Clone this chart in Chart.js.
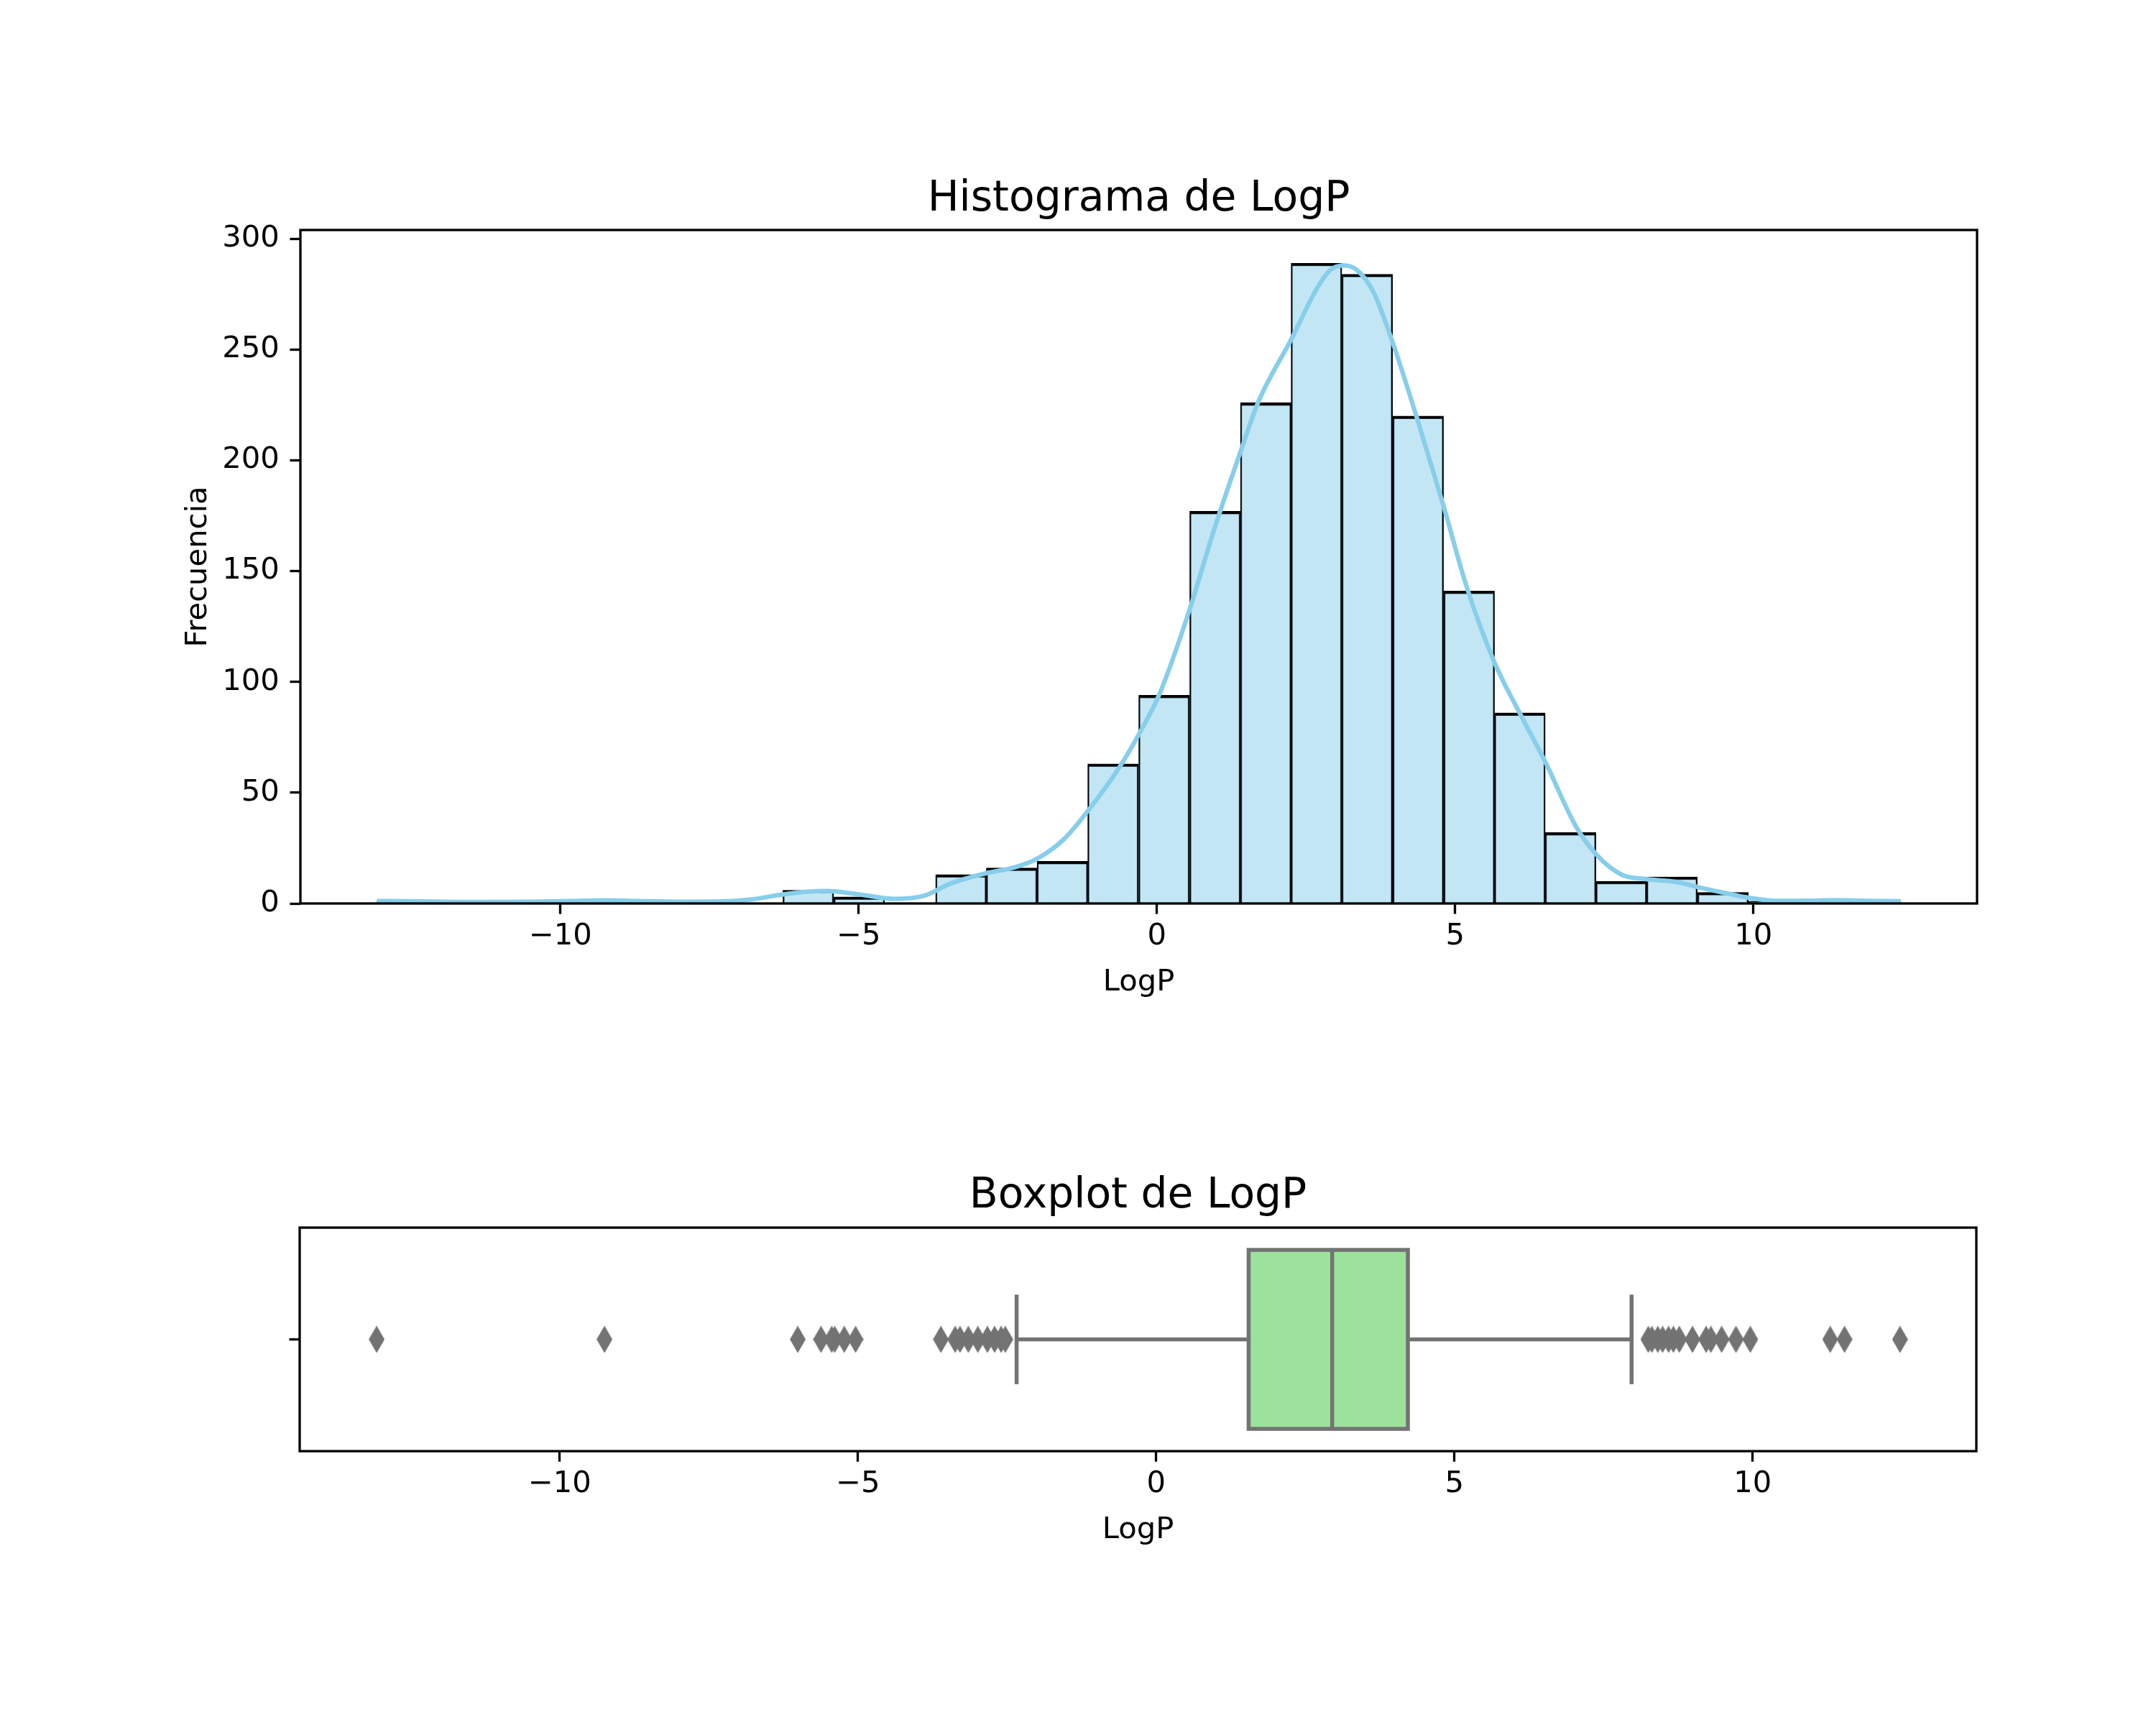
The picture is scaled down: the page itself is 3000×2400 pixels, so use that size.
<!DOCTYPE html>
<html>
<head>
<meta charset="utf-8">
<script src="https://cdn.jsdelivr.net/npm/chart.js@4.4.1/dist/chart.umd.min.js"></script>
<style>
  html, body { margin: 0; padding: 0; background: #fff; }
  #wrap { position: relative; width: 3000px; height: 2400px; background: #fff; }
  canvas { position: absolute; left: 0; }
  #hist { top: 0; width: 3000px; height: 1400px; }
  #box { top: 1400px; width: 3000px; height: 762px; }
</style>
</head>
<body>
<div id="wrap">
  <canvas id="hist" width="3000" height="1400"></canvas>
  <canvas id="box" width="3000" height="762"></canvas>
</div>
<script>
// Histogram: 30 bins (edges) and their counts
const BIN_EDGES = [-13.08, -12.23, -11.38, -10.52, -9.67, -8.82, -7.97, -7.12, -6.27, -5.42,
  -4.56, -3.71, -2.86, -2.01, -1.16, -0.31, 0.55, 1.40, 2.25, 3.10,
  3.95, 4.81, 5.66, 6.51, 7.36, 8.21, 9.06, 9.92, 10.77, 11.62, 12.47];
const COUNTS = [1, 0, 0, 0, 1, 0, 0, 0, 6, 3, 0, 13, 16, 19, 63, 94, 177, 226, 289, 284,
  220, 141, 86, 32, 10, 12, 5, 1, 2, 1];

// KDE curve (scaled to counts)
const KDE_X = [-13.08, -12.5, -11.5, -10.5, -9.8, -9.26, -8.7, -8.0, -7.3, -6.8, -6.29, -5.9, -5.53,
  -4.97, -4.42, -3.9, -3.46, -2.87, -2.4, -2.02, -1.56, -1.18, -0.64, -0.31, 0.05, 0.54, 0.95,
  1.39, 1.71, 2.26, 2.67, 2.91, 3.13, 3.35, 3.63, 3.93, 4.35, 4.81, 5.18, 5.64, 6.10, 6.51,
  7.02, 7.37, 7.79, 8.21, 8.71, 9.07, 9.48, 9.94, 10.40, 10.86, 11.40, 11.93, 12.47];
const KDE_Y = [1.1, 1.0, 0.7, 0.8, 1.1, 1.4, 1.1, 0.8, 0.9, 1.8, 4.0, 5.2, 5.6,
  4.0, 2.1, 3.5, 9.0, 13.6, 16.2, 20, 29, 41, 61, 76, 95, 132, 168,
  203, 227, 255, 277, 286, 288, 286, 276, 255, 220, 179, 144, 110, 85, 64,
  35, 22, 13, 11, 9.7, 7.4, 5, 2.5, 1.2, 1.2, 1.5, 1.2, 1.0];

// Boxplot summary
const WHISKER_LOW = -2.34;
const Q1 = 1.55;
const MEDIAN = 2.95;
const Q3 = 4.22;
const WHISKER_HIGH = 7.97;
const OUTLIERS = [-13.07, -9.25, -6.01, -5.62, -5.44, -5.39, -5.23, -5.04,
  -3.61, -3.37, -3.29, -3.15, -2.99, -2.83, -2.71, -2.60, -2.53,
  8.25, 8.31, 8.41, 8.49, 8.59, 8.67, 8.77, 8.99, 9.22, 9.30, 9.48, 9.72, 9.96,
  11.30, 11.54, 12.47];

// axes
const X_LIMITS = [-14.36, 13.75];
const X_TICKS = [-10, -5, 0, 5, 10];
const Y_MAX = 304;
const Y_TICKS = [0, 50, 100, 150, 200, 250, 300];
const BOX_Y_TICKS = [0];

// styles
const FONT = 'DejaVu Sans';
const TICK_SIZE = 41.67;
const TITLE_SIZE = 58.33;
const GRAY = '#737373';
const BOX_FILL = '#9ce29c';
const BOX_HALF = 0.4;
const CAP_HALF = 0.2;
const LW = 3.3;

const fmt = v => v < 0 ? '\u2212' + Math.abs(v) : String(v);

const framePlugin = {
  id: 'frame',
  afterDatasetsDraw(chart) {
    const { ctx, chartArea: a } = chart;
    ctx.save();
    ctx.strokeStyle = '#000';
    ctx.lineWidth = LW;
    ctx.strokeRect(a.left, a.top, a.right - a.left, a.bottom - a.top);
    ctx.restore();
  }
};

function tickGrid() {
  return { display: true, drawOnChartArea: false, drawTicks: true, tickLength: 14.6,
    tickWidth: LW, tickColor: '#000', offset: false };
}

function xAxis() {
  return {
    type: 'linear', min: X_LIMITS[0], max: X_LIMITS[1], offset: false,
    grid: tickGrid(),
    border: { display: false },
    afterBuildTicks: s => { s.ticks = X_TICKS.map(v => ({ value: v })); },
    ticks: { autoSkip: false, maxRotation: 0, padding: 7, color: '#000',
      font: { family: FONT, size: TICK_SIZE }, callback: v => fmt(v) },
    title: { display: true, text: 'LogP', color: '#000',
      font: { family: FONT, size: TICK_SIZE }, padding: { top: 0, bottom: 8 } },
    afterFit: s => { s.height = 143; }
  };
}

function title(text, top, bottom) {
  return { display: true, text, fullSize: false, color: '#000',
    font: { family: FONT, size: TITLE_SIZE, weight: 'normal' },
    padding: { top, bottom } };
}

// ---- histogram + kde ----
const histBars = COUNTS.map((c, i) => ({ x: (BIN_EDGES[i] + BIN_EDGES[i + 1]) / 2, y: c }));
const kdePts = KDE_X.map((x, i) => ({ x, y: KDE_Y[i] }));

new Chart(document.getElementById('hist'), {
  type: 'bar',
  data: {
    datasets: [
      { type: 'line', data: kdePts, borderColor: '#87CEEB', borderWidth: 6.25, pointRadius: 0,
        cubicInterpolationMode: 'monotone', fill: false, order: 1 },
      { type: 'bar', data: histBars, backgroundColor: 'rgba(135,206,235,0.5)', borderColor: '#000',
        borderWidth: { top: 3.8, left: 1.9, right: 1.9, bottom: 0 }, borderSkipped: 'start',
        barPercentage: 1, categoryPercentage: 1, order: 2 }
    ]
  },
  options: {
    responsive: false, animation: false, devicePixelRatio: 1,
    layout: { padding: { left: 0, right: 249, top: 0, bottom: 0 } },
    plugins: {
      legend: { display: false }, tooltip: { enabled: false },
      title: title('Histograma de LogP', 243, 7)
    },
    scales: {
      x: xAxis(),
      y: {
        type: 'linear', min: 0, max: Y_MAX,
        grid: tickGrid(),
        border: { display: false },
        afterBuildTicks: s => { s.ticks = Y_TICKS.map(v => ({ value: v })); },
        ticks: { autoSkip: false, padding: 14.6, color: '#000', font: { family: FONT, size: TICK_SIZE } },
        title: { display: true, text: 'Frecuencia', color: '#000',
          font: { family: FONT, size: TICK_SIZE }, padding: { top: 251.6, bottom: 0 } },
        afterFit: s => { s.width = 418; }
      }
    }
  },
  plugins: [framePlugin]
});

// ---- boxplot ----
const diamond = document.createElement('canvas');
diamond.width = 22; diamond.height = 38;
(function () {
  const c = diamond.getContext('2d');
  c.fillStyle = GRAY;
  c.beginPath();
  c.moveTo(11, 0); c.lineTo(22, 19); c.lineTo(11, 38); c.lineTo(0, 19); c.closePath();
  c.fill();
})();

// lower index is drawn on top
const seg = (a, b) => ({ data: [a, b], borderColor: GRAY, borderWidth: 5.5, pointRadius: 0,
  fill: false, borderCapStyle: 'butt' });

new Chart(document.getElementById('box'), {
  type: 'line',
  data: {
    datasets: [
      seg({ x: MEDIAN, y: -BOX_HALF }, { x: MEDIAN, y: BOX_HALF }),
      seg({ x: WHISKER_LOW, y: 0 }, { x: Q1, y: 0 }),
      seg({ x: Q3, y: 0 }, { x: WHISKER_HIGH, y: 0 }),
      seg({ x: WHISKER_LOW, y: -CAP_HALF }, { x: WHISKER_LOW, y: CAP_HALF }),
      seg({ x: WHISKER_HIGH, y: -CAP_HALF }, { x: WHISKER_HIGH, y: CAP_HALF }),
      { data: [{ x: Q1, y: -BOX_HALF }, { x: Q3, y: -BOX_HALF }, { x: Q3, y: BOX_HALF },
               { x: Q1, y: BOX_HALF }, { x: Q1, y: -BOX_HALF }],
        fill: 'shape', backgroundColor: BOX_FILL, borderColor: GRAY, borderWidth: 5.5,
        borderJoinStyle: 'miter', borderCapStyle: 'square', pointRadius: 0, tension: 0 },
      { data: OUTLIERS.map(v => ({ x: v, y: 0 })), showLine: false,
        pointStyle: diamond, pointRadius: 11, borderWidth: 0 }
    ]
  },
  options: {
    responsive: false, animation: false, devicePixelRatio: 1,
    layout: { padding: { left: 0, right: 250, top: 0, bottom: 0 } },
    plugins: {
      legend: { display: false }, tooltip: { enabled: false },
      title: title('Boxplot de LogP', 229.5, 8.5)
    },
    scales: {
      x: xAxis(),
      y: {
        type: 'linear', min: -0.5, max: 0.5, reverse: true,
        grid: tickGrid(),
        border: { display: false },
        afterBuildTicks: s => { s.ticks = BOX_Y_TICKS.map(v => ({ value: v })); },
        ticks: { autoSkip: false, padding: 14.6, color: '#000',
          font: { family: FONT, size: TICK_SIZE }, callback: () => '' },
        afterFit: s => { s.width = 417; }
      }
    }
  },
  plugins: [framePlugin]
});
</script>
</body>
</html>
